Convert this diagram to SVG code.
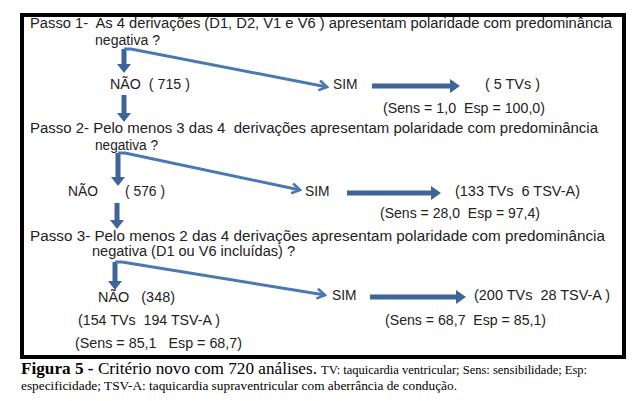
<svg xmlns="http://www.w3.org/2000/svg" width="636" height="401" viewBox="0 0 636 401">
<style>
text{white-space:pre}
.t{font-family:"Liberation Sans",Arial,sans-serif;font-size:13.8px;fill:#222}
.c{font-family:"Liberation Serif","Times New Roman",serif;fill:#000}
.thick{stroke:#3f6497;stroke-width:5;fill:none}
.thin{stroke:#4a78b2;stroke-width:3;fill:none;stroke-linejoin:miter}
</style>
<defs>
<marker id="hd" markerUnits="userSpaceOnUse" viewBox="0 0 10 14" refX="0" refY="7" markerWidth="10" markerHeight="14" orient="auto"><path d="M0,0 L10,7 L0,14 Z" fill="#3f6497"/></marker>
<marker id="hv" markerUnits="userSpaceOnUse" viewBox="0 0 9 14" refX="0" refY="7" markerWidth="9" markerHeight="14" orient="auto"><path d="M0,0 L9,7 L0,14 Z" fill="#3f6497"/></marker>
<marker id="ho" markerUnits="userSpaceOnUse" viewBox="0 0 12 12" refX="10" refY="6" markerWidth="12" markerHeight="12" orient="auto"><path d="M2,1 L10,6 L2,11" fill="none" stroke="#4a78b2" stroke-width="2.6"/></marker>
</defs>
<rect x="0" y="0" width="636" height="401" fill="#fff"/>
<rect id="frame" x="22" y="15" width="602" height="342" fill="none" stroke="#000" stroke-width="4"/>
<g id="connectors">
<line class="thick" x1="124" y1="49" x2="124" y2="64" marker-end="url(#hv)"/>
<line class="thick" x1="124" y1="95" x2="124" y2="113" marker-end="url(#hv)"/>
<line class="thick" x1="118" y1="153" x2="118" y2="177" marker-end="url(#hv)"/>
<line class="thick" x1="117" y1="203" x2="117" y2="220" marker-end="url(#hv)"/>
<line class="thick" x1="115" y1="262" x2="115" y2="281" marker-end="url(#hv)"/>
<path class="thin" d="M124,49 L131,49 L327,87" marker-end="url(#ho)"/>
<path class="thin" d="M118,153 L125,153 L300,190" marker-end="url(#ho)"/>
<path class="thin" d="M115,262 L122,262 L325,295" marker-end="url(#ho)"/>
<line class="thick" x1="372" y1="86" x2="450" y2="86" marker-end="url(#hd)"/>
<line class="thick" x1="347" y1="193" x2="431" y2="193" marker-end="url(#hd)"/>
<line class="thick" x1="370" y1="297" x2="456" y2="297" marker-end="url(#hd)"/>
</g>
<g id="step1">
<text class="t" x="30" y="28" textLength="582" lengthAdjust="spacingAndGlyphs">Passo 1-  As 4 derivações (D1, D2, V1 e V6 ) apresentam polaridade com predominância</text>
<text class="t" x="95" y="45" textLength="65" lengthAdjust="spacingAndGlyphs">negativa ?</text>
</g>
<g id="nao1"><text class="t" x="110" y="89" textLength="80" lengthAdjust="spacingAndGlyphs">NÃO  ( 715 )</text></g>
<g id="sim1"><text class="t" x="333" y="89">SIM</text></g>
<g id="res1">
<text class="t" x="485" y="89" textLength="55" lengthAdjust="spacingAndGlyphs">( 5 TVs )</text>
<text class="t" x="383" y="113" textLength="162" lengthAdjust="spacingAndGlyphs">(Sens = 1,0  Esp = 100,0)</text>
</g>
<g id="step2">
<text class="t" x="30" y="133" textLength="568" lengthAdjust="spacingAndGlyphs">Passo 2- Pelo menos 3 das 4  derivações apresentam polaridade com predominância</text>
<text class="t" x="95" y="150" textLength="63" lengthAdjust="spacingAndGlyphs">negativa ?</text>
</g>
<g id="nao2"><text class="t" x="68" y="196">NÃO</text><text class="t" x="125" y="196" textLength="40" lengthAdjust="spacingAndGlyphs">( 576 )</text></g>
<g id="sim2"><text class="t" x="305" y="196">SIM</text></g>
<g id="res2">
<text class="t" x="455" y="196" textLength="125" lengthAdjust="spacingAndGlyphs">(133 TVs  6 TSV-A)</text>
<text class="t" x="380" y="218" textLength="160" lengthAdjust="spacingAndGlyphs">(Sens = 28,0  Esp = 97,4)</text>
</g>
<g id="step3">
<text class="t" x="30" y="241" textLength="575" lengthAdjust="spacingAndGlyphs">Passo 3- Pelo menos 2 das 4 derivações apresentam polaridade com predominância</text>
<text class="t" x="92" y="256" textLength="203" lengthAdjust="spacingAndGlyphs">negativa (D1 ou V6 incluídas) ?</text>
</g>
<g id="nao3">
<text class="t" x="98" y="302" textLength="77" lengthAdjust="spacingAndGlyphs">NÃO   (348)</text>
<text class="t" x="78" y="325" textLength="142" lengthAdjust="spacingAndGlyphs">(154 TVs  194 TSV-A )</text>
<text class="t" x="75" y="348" textLength="167" lengthAdjust="spacingAndGlyphs">(Sens = 85,1   Esp = 68,7)</text>
</g>
<g id="sim3"><text class="t" x="332" y="300">SIM</text></g>
<g id="res3">
<text class="t" x="474" y="300" textLength="136" lengthAdjust="spacingAndGlyphs">(200 TVs  28 TSV-A )</text>
<text class="t" x="385" y="325" textLength="161" lengthAdjust="spacingAndGlyphs">(Sens = 68,7  Esp = 85,1)</text>
</g>
<g id="caption">
<text class="c" x="21" y="374" font-size="17" textLength="296" lengthAdjust="spacingAndGlyphs"><tspan font-weight="bold">Figura 5 - </tspan>Critério novo com 720 análises.</text>
<text class="c" x="321" y="374" font-size="13" textLength="266" lengthAdjust="spacingAndGlyphs">TV: taquicardia ventricular; Sens: sensibilidade; Esp:</text>
<text class="c" x="21" y="390" font-size="13" textLength="436" lengthAdjust="spacingAndGlyphs">especificidade; TSV-A: taquicardia supraventricular com aberrância de condução.</text>
</g>
</svg>
